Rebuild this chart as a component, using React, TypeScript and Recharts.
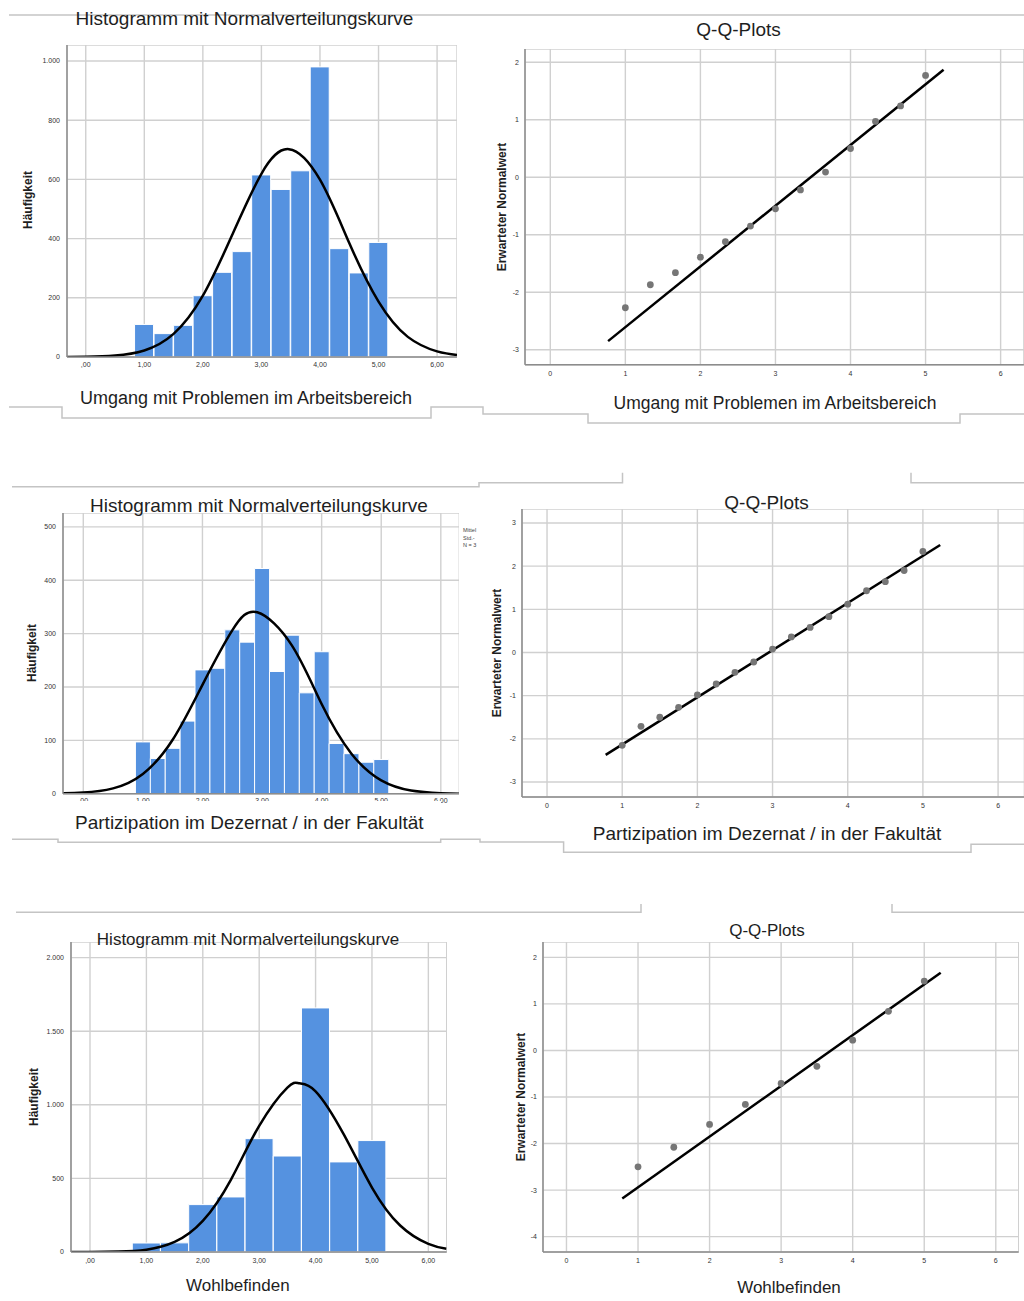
import { ComposedChart, Bar, Line, Scatter, XAxis, YAxis, CartesianGrid } from "recharts"

const FONT = "'Liberation Sans', Arial, sans-serif"
const BAR_BLUE = "#5592e0"
const GRID = "#d0d0d0"
const AXIS = "#8c8c8c"

// x ticks shared by every panel
const scoreTicks = [0, 1, 2, 3, 4, 5, 6]

// Umgang mit Problemen im Arbeitsbereich
const umgangBins = [1, 1.333, 1.667, 2, 2.333, 2.667, 3, 3.333, 3.667, 4, 4.333, 4.667, 5]
const umgangCounts = [110, 79, 107, 207, 286, 356, 615, 566, 629, 980, 366, 284, 387]
const umgangCurveX = [-0.32, 0, 0.5, 1, 1.5, 2, 2.5, 3, 3.47, 4, 4.5, 5, 5.5, 6, 6.34]
const umgangCurveY = [0, 1, 5, 22, 78, 207, 412, 619, 702, 599, 385, 187, 68, 19, 7]
const umgangCountTicks = [0, 200, 400, 600, 800, 1000]
const umgangQqX = [1, 1.333, 1.667, 2, 2.333, 2.667, 3, 3.333, 3.667, 4, 4.333, 4.667, 5]
const umgangQqY = [-2.27, -1.87, -1.66, -1.39, -1.12, -0.85, -0.55, -0.22, 0.09, 0.5, 0.97, 1.24, 1.77]
const umgangFitX = [0.77, 5.24]
const umgangFitY = [-2.85, 1.87]
const umgangQqTicks = [-3, -2, -1, 0, 1, 2]

// Partizipation im Dezernat / in der Fakultät
const partBins = [1, 1.25, 1.5, 1.75, 2, 2.25, 2.5, 2.75, 3, 3.25, 3.5, 3.75, 4, 4.25, 4.5, 4.75, 5]
const partCounts = [97, 66, 85, 136, 232, 235, 307, 284, 422, 229, 297, 189, 266, 94, 75, 59, 64]
const partCurveX = [-0.34, 0, 0.5, 1, 1.5, 2, 2.5, 2.92, 3.5, 4, 4.5, 5, 5.5, 6, 6.31]
const partCurveY = [1, 2, 10, 37, 101, 204, 306, 340, 278, 168, 75, 25, 6, 1, 0]
const partCountTicks = [0, 100, 200, 300, 400, 500]
const partQqX = [1, 1.25, 1.5, 1.75, 2, 2.25, 2.5, 2.75, 3, 3.25, 3.5, 3.75, 4, 4.25, 4.5, 4.75, 5]
const partQqY = [-2.15, -1.71, -1.5, -1.27, -0.98, -0.73, -0.46, -0.22, 0.08, 0.36, 0.58, 0.83, 1.12, 1.43, 1.64, 1.9, 2.34]
const partFitX = [0.78, 5.23]
const partFitY = [-2.37, 2.49]
const partQqTicks = [-3, -2, -1, 0, 1, 2, 3]

// Wohlbefinden
const wohlBins = [1, 1.5, 2, 2.5, 3, 3.5, 4, 4.5, 5]
const wohlCounts = [61, 62, 322, 374, 770, 652, 1658, 612, 757]
const wohlCurveX = [-0.34, 0, 0.5, 1, 1.5, 2, 2.5, 3, 3.5, 3.71, 4, 4.5, 5, 5.5, 6, 6.32]
const wohlCurveY = [0, 0, 3, 16, 68, 211, 492, 857, 1117, 1146, 1092, 799, 438, 180, 55, 22]
const wohlCountTicks = [0, 500, 1000, 1500, 2000]
const wohlQqX = [1, 1.5, 2, 2.5, 3, 3.5, 4, 4.5, 5]
const wohlQqY = [-2.5, -2.08, -1.59, -1.16, -0.71, -0.34, 0.22, 0.84, 1.49]
const wohlFitX = [0.78, 5.23]
const wohlFitY = [-3.18, 1.67]
const wohlQqTicks = [-4, -3, -2, -1, 0, 1, 2]

const fmtScore = (v: number) => (v === 0 ? ",00" : v.toFixed(2).replace(".", ","))
const fmtCount = (v: number) =>
  v >= 1000 ? `${Math.floor(v / 1000)}.${String(v % 1000).padStart(3, "0")}` : String(v)

const tickStyle = { fontSize: 7, fill: "#333" }

type Rect = { left: number; top: number; right: number; bottom: number }

type HistProps = Rect & {
  xDomain: [number, number]
  yDomain: [number, number]
  yTicks: number[]
  bins: number[]
  counts: number[]
  curveX: number[]
  curveY: number[]
  xLabelGap: number
}

function Histogram(p: HistProps) {
  const yW = 40
  const xH = 20
  const barData = p.bins.map((x, i) => ({ x, count: p.counts[i] }))
  const curveData = p.curveX.map((x, i) => ({ x, density: p.curveY[i] }))
  return (
    <div style={{ position: "absolute", left: p.left - yW, top: p.top }}>
      <ComposedChart
        width={p.right - p.left + yW}
        height={p.bottom - p.top + xH}
        data={barData}
        margin={{ top: 0, right: 0, bottom: 0, left: 0 }}
        barCategoryGap={0}
        barGap={0}
      >
        <CartesianGrid stroke={GRID} strokeWidth={1.4} />
        <XAxis
          dataKey="x"
          type="number"
          domain={p.xDomain}
          allowDataOverflow
          ticks={scoreTicks}
          tickFormatter={fmtScore}
          height={xH}
          tick={tickStyle}
          tickLine={false}
          tickSize={p.xLabelGap}
          tickMargin={1}
          axisLine={{ stroke: AXIS, strokeWidth: 1.5 }}
          interval={0}
        />
        <XAxis xAxisId="curve" dataKey="x" type="number" domain={p.xDomain} allowDataOverflow hide />
        <YAxis
          type="number"
          domain={p.yDomain}
          allowDataOverflow
          ticks={p.yTicks}
          tickFormatter={fmtCount}
          width={yW}
          tick={tickStyle}
          tickLine={false}
          tickSize={5}
          tickMargin={2}
          axisLine={{ stroke: AXIS, strokeWidth: 1.5 }}
          interval={0}
        />
        <Bar dataKey="count" fill={BAR_BLUE} stroke="#ffffff" strokeWidth={1} isAnimationActive={false} />
        <Line
          xAxisId="curve"
          data={curveData}
          dataKey="density"
          type="natural"
          stroke="#000"
          strokeWidth={2.5}
          dot={false}
          isAnimationActive={false}
        />
      </ComposedChart>
    </div>
  )
}

type QqProps = Rect & {
  xDomain: [number, number]
  yDomain: [number, number]
  yTicks: number[]
  qx: number[]
  qy: number[]
  fitX: number[]
  fitY: number[]
}

function QqPlot(p: QqProps) {
  const yW = 30
  const xH = 22
  const points = p.qx.map((x, i) => ({ x, y: p.qy[i] }))
  const fit = p.fitX.map((x, i) => ({ x, y: p.fitY[i] }))
  return (
    <div style={{ position: "absolute", left: p.left - yW, top: p.top }}>
      <ComposedChart
        width={p.right - p.left + yW}
        height={p.bottom - p.top + xH}
        margin={{ top: 0, right: 0, bottom: 0, left: 0 }}
      >
        <CartesianGrid stroke={GRID} strokeWidth={1.4} />
        <XAxis
          dataKey="x"
          type="number"
          domain={p.xDomain}
          allowDataOverflow
          ticks={scoreTicks}
          height={xH}
          tick={tickStyle}
          tickLine={false}
          tickSize={5}
          tickMargin={1.5}
          axisLine={{ stroke: AXIS, strokeWidth: 1.5 }}
          interval={0}
        />
        <YAxis
          type="number"
          domain={p.yDomain}
          allowDataOverflow
          ticks={p.yTicks}
          width={yW}
          tick={tickStyle}
          tickLine={false}
          tickSize={4}
          tickMargin={2}
          axisLine={{ stroke: AXIS, strokeWidth: 1.5 }}
          interval={0}
        />
        <Scatter
          data={points}
          dataKey="y"
          isAnimationActive={false}
          shape={(s: any) => <circle cx={s.cx} cy={s.cy} r={3.4} fill="#767676" />}
        />
        <Line
          data={fit}
          dataKey="y"
          type="linear"
          stroke="#000"
          strokeWidth={2.5}
          dot={false}
          isAnimationActive={false}
        />
      </ComposedChart>
    </div>
  )
}

function Caption({ x, y, size, text, bold, vertical }: { x: number; y: number; size: number; text: string; bold?: boolean; vertical?: boolean }) {
  return (
    <div
      style={{
        position: "absolute",
        left: x,
        top: y,
        transform: `translate(-50%, -50%)${vertical ? " rotate(-90deg)" : ""}`,
        fontSize: size,
        fontWeight: bold ? 700 : 400,
        lineHeight: 1,
        whiteSpace: "nowrap",
        color: "#1e1e1e",
      }}
    >
      {text}
    </div>
  )
}

export default function App() {
  return (
    <div
      style={{
        position: "absolute",
        left: 0,
        top: 0,
        width: 1024,
        height: 1301,
        overflow: "hidden",
        background: "#fff",
        fontFamily: FONT,
      }}
    >
      {/* frames of the pasted screenshots */}
      <svg width={1024} height={1301} style={{ position: "absolute", left: 0, top: 0 }}>
        <g fill="none" stroke="#c4c4c4" strokeWidth={1.5}>
          <path d="M9,15 H1024" />
          <path d="M9,407 H62 V418 H431 V407 H483 V414 H588 V423 H960 V414 H1024" />
          <path d="M12,486.7 H479 V482.7 H622.5 V472.7" />
          <path d="M911,472.7 V482.7 H1024" />
          <path d="M12,839.3 H58 V842.3 H440.7 V839.3 H480 V842 H563.6 V852.3 H971 V844.3 H1024" />
          <path d="M16,912.3 H641 V904" />
          <path d="M892,904 V912.3 H1024" />
        </g>
      </svg>

      <Histogram
        left={67}
        top={45}
        right={457}
        bottom={357}
        xDomain={[-0.32, 6.34]}
        yDomain={[0, 1054]}
        yTicks={umgangCountTicks}
        bins={umgangBins}
        counts={umgangCounts}
        curveX={umgangCurveX}
        curveY={umgangCurveY}
        xLabelGap={4}
      />
      <QqPlot
        left={525.1}
        top={49.3}
        right={1024}
        bottom={365}
        xDomain={[-0.337, 6.31]}
        yDomain={[-3.26, 2.23]}
        yTicks={umgangQqTicks}
        qx={umgangQqX}
        qy={umgangQqY}
        fitX={umgangFitX}
        fitY={umgangFitY}
      />
      <Histogram
        left={62.7}
        top={513.3}
        right={459}
        bottom={794}
        xDomain={[-0.34, 6.31]}
        yDomain={[0, 526]}
        yTicks={partCountTicks}
        bins={partBins}
        counts={partCounts}
        curveX={partCurveX}
        curveY={partCurveY}
        xLabelGap={3}
      />
      <QqPlot
        left={521.6}
        top={509.3}
        right={1024}
        bottom={797.3}
        xDomain={[-0.333, 6.35]}
        yDomain={[-3.347, 3.324]}
        yTicks={partQqTicks}
        qx={partQqX}
        qy={partQqY}
        fitX={partFitX}
        fitY={partFitY}
      />
      <Histogram
        left={71}
        top={941.7}
        right={446.7}
        bottom={1251.7}
        xDomain={[-0.337, 6.325]}
        yDomain={[0, 2106]}
        yTicks={wohlCountTicks}
        bins={wohlBins}
        counts={wohlCounts}
        curveX={wohlCurveX}
        curveY={wohlCurveY}
        xLabelGap={5}
      />
      <QqPlot
        left={543.2}
        top={941.7}
        right={1018.9}
        bottom={1251.7}
        xDomain={[-0.328, 6.32]}
        yDomain={[-4.33, 2.33]}
        yTicks={wohlQqTicks}
        qx={wohlQqX}
        qy={wohlQqY}
        fitX={wohlFitX}
        fitY={wohlFitY}
      />

      {/* the caption box of the middle histogram hides most of its x tick labels */}
      <div style={{ position: "absolute", left: 58, top: 801, width: 382.7, height: 36, background: "#fff" }} />

      <Caption x={244.5} y={18} size={19} text="Histogramm mit Normalverteilungskurve" />
      <Caption x={28} y={200} size={12} bold vertical text="Häufigkeit" />
      <Caption x={246} y={398} size={18} text="Umgang mit Problemen im Arbeitsbereich" />

      <Caption x={738.5} y={29} size={19} text="Q-Q-Plots" />
      <Caption x={501.5} y={207} size={12} bold vertical text="Erwarteter Normalwert" />
      <Caption x={775} y={404} size={17.5} text="Umgang mit Problemen im Arbeitsbereich" />

      <Caption x={259} y={505} size={19} text="Histogramm mit Normalverteilungskurve" />
      <Caption x={31.7} y={653} size={12} bold vertical text="Häufigkeit" />
      <Caption x={249.3} y={821.7} size={19} text="Partizipation im Dezernat / in der Fakultät" />
      <div style={{ position: "absolute", left: 463, top: 527, fontSize: 5.5, lineHeight: "7.5px", color: "#444", whiteSpace: "pre" }}>
        {"Mittel\nStd.-\nN = 3"}
      </div>

      <Caption x={766.5} y={501.5} size={19} text="Q-Q-Plots" />
      <Caption x={497.3} y={652.7} size={12} bold vertical text="Erwarteter Normalwert" />
      <Caption x={767} y={832.7} size={19} text="Partizipation im Dezernat / in der Fakultät" />

      <Caption x={248} y={939} size={17} text="Histogramm mit Normalverteilungskurve" />
      <Caption x={34} y={1097} size={12} bold vertical text="Häufigkeit" />
      <Caption x={237.8} y={1285} size={17} text="Wohlbefinden" />

      <Caption x={767} y={930} size={17} text="Q-Q-Plots" />
      <Caption x={520.9} y={1096.7} size={12} bold vertical text="Erwarteter Normalwert" />
      <Caption x={789} y={1287} size={17} text="Wohlbefinden" />
    </div>
  )
}
